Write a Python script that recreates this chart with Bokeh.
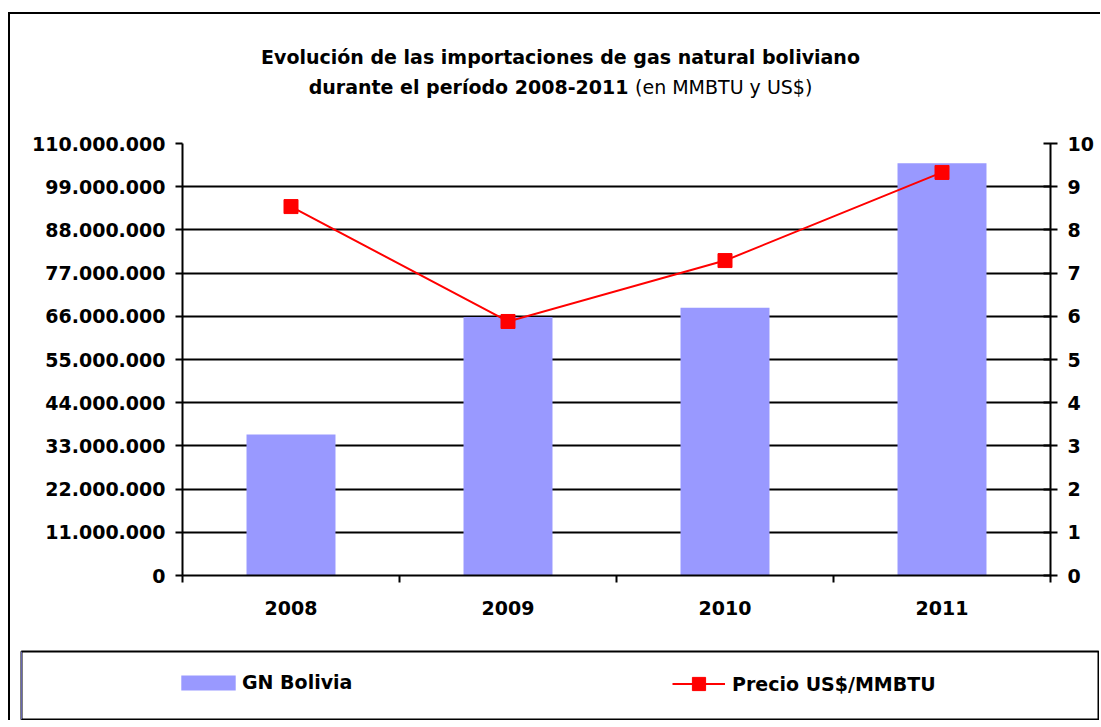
from bokeh.plotting import figure
from bokeh.layouts import column
from bokeh.models import (Range1d, LinearAxis, FixedTicker, Legend, LegendItem,
                          ColumnDataSource, Grid, Div)
from bokeh.embed import file_html
from bokeh.resources import INLINE

# ---- data ----
years = ["2008", "2009", "2010", "2011"]
gn_bolivia = [35_900_000, 65_800_000, 68_200_000, 105_000_000]   # MMBTU
precio = [8.54, 5.88, 7.29, 9.33]                                 # US$/MMBTU
left_ticks = [0, 11_000_000, 22_000_000, 33_000_000, 44_000_000, 55_000_000,
              66_000_000, 77_000_000, 88_000_000, 99_000_000, 110_000_000]
right_ticks = [0, 1, 2, 3, 4, 5, 6, 7, 8, 9, 10]
title_line1 = "Evolución de las importaciones de gas natural boliviano"
title_line2_bold = "durante el período 2008-2011"
title_line2_normal = "(en MMBTU y US$)"
series_names = ["GN Bolivia", "Precio US$/MMBTU"]


def fmt(v):
    return f"{v:,}".replace(",", ".")


FONT = "DejaVu Sans"
FS = "19px"
BAR_COLOR = "#9999FF"
LINE_COLOR = "#FF0000"

xpos = [i + 0.5 for i in range(len(years))]
src = ColumnDataSource(dict(x=xpos, gn=gn_bolivia, precio=precio, year=years))

# ---- title ----
title_div = Div(
    width=1090, height=116, margin=0,
    text=(f'<div style="font-family:\'{FONT}\';font-size:19px;font-weight:bold;'
          f'text-align:center;line-height:30px;padding-top:28px;padding-left:11px;'
          f'box-sizing:border-box;color:black;width:1090px">'
          f'{title_line1}<br>{title_line2_bold} '
          f'<span style="font-weight:normal">{title_line2_normal}</span></div>'),
)

# ---- main chart ----
p = figure(frame_width=868, frame_height=432,
           min_border_left=172, min_border_right=50,
           min_border_top=13, min_border_bottom=65,
           x_range=Range1d(0, len(years)), y_range=Range1d(0, left_ticks[-1]),
           output_backend="svg", toolbar_location=None,
           background_fill_color="white", border_fill_color="white")
p.frame_align = False
p.outline_line_color = None
p.extra_y_ranges = {"precio": Range1d(right_ticks[0], right_ticks[-1])}

p.xgrid.visible = False
p.ygrid.ticker = FixedTicker(ticks=left_ticks[:-1])
p.ygrid.grid_line_color = "black"
p.ygrid.grid_line_width = 2
p.add_layout(Grid(dimension=1, ticker=FixedTicker(ticks=[left_ticks[-1]]),
                  grid_line_color="#808080", grid_line_width=2))

xa = p.xaxis[0]
xa.ticker = FixedTicker(ticks=xpos, minor_ticks=list(range(len(years) + 1)))
xa.major_label_overrides = {x: y for x, y in zip(xpos, years)}
xa.major_tick_out = 0
xa.major_tick_in = 0
xa.minor_tick_out = 7
xa.minor_tick_in = 0
xa.minor_tick_line_color = "black"
xa.minor_tick_line_width = 2
xa.major_label_standoff = 18

ya = p.yaxis[0]
ya.ticker = FixedTicker(ticks=left_ticks)
ya.major_label_overrides = {v: fmt(v) for v in left_ticks}
ya.major_tick_out = 7
ya.major_tick_in = 0
ya.minor_tick_line_color = None
ya.major_label_standoff = 10

ra = LinearAxis(y_range_name="precio", ticker=FixedTicker(ticks=right_ticks))
ra.major_tick_out = 7
ra.major_tick_in = 7
ra.minor_tick_line_color = None
ra.major_label_standoff = 10
p.add_layout(ra, "right")

for ax in (xa, ya, ra):
    ax.axis_line_color = "black"
    ax.axis_line_width = 2
    ax.major_tick_line_width = 2
    ax.major_tick_line_color = "black"
    ax.major_label_text_font = FONT
    ax.major_label_text_font_style = "bold"
    ax.major_label_text_font_size = FS
    ax.major_label_text_color = "black"
xa.major_tick_line_color = None

p.vbar(x="x", top="gn", width=0.41, source=src, fill_color=BAR_COLOR, line_color=None)
p.line(x="x", y="precio", source=src, y_range_name="precio",
       line_color=LINE_COLOR, line_width=2)
p.scatter(x="x", y="precio", source=src, y_range_name="precio",
          marker="square", size=14, fill_color=LINE_COLOR, line_color=LINE_COLOR)

# ---- legend box (separate small figure; its glyphs use the same data but
#      lie outside its view, so only the legend entries show) ----
lf = figure(width=1079, height=70, min_border=1,
            x_range=Range1d(100, 101), y_range=Range1d(0, 1),
            output_backend="svg", toolbar_location=None, margin=(10, 0, 0, 10),
            background_fill_color="white", border_fill_color="white")
lf.frame_align = False
lf.axis.visible = False
lf.grid.visible = False
lf.outline_line_color = "black"
lf.outline_line_width = 2

bar_proxy = lf.vbar(x="x", top="gn", width=0.41, source=src,
                    fill_color=BAR_COLOR, line_color=None)
line_proxy = lf.line(x="x", y="precio", source=src, line_color=LINE_COLOR, line_width=2)
pts_proxy = lf.scatter(x="x", y="precio", source=src, marker="square",
                       fill_color=LINE_COLOR, line_color=LINE_COLOR)

common = dict(orientation="horizontal", padding=0, margin=0, spacing=0,
              border_line_color=None, background_fill_alpha=0,
              label_text_font=FONT, label_text_font_style="bold",
              label_text_font_size=FS, label_text_color="black")
leg1 = Legend(items=[LegendItem(label=series_names[0], renderers=[bar_proxy])],
              location=(153, 26), glyph_width=68, glyph_height=19,
              label_height=19, label_standoff=0, **common)
leg2 = Legend(items=[LegendItem(label=series_names[1], renderers=[line_proxy, pts_proxy])],
              location=(651, 19), glyph_width=53, glyph_height=33,
              label_height=33, label_standoff=7, **common)
lf.add_layout(leg1)
lf.add_layout(leg2)

root = column(title_div, p, lf, spacing=0,
              styles={"margin-left": "8px", "margin-top": "12px",
                      "border-left": "2px solid black", "border-top": "2px solid black"})

open("out.html", "w").write(file_html(root, INLINE))
